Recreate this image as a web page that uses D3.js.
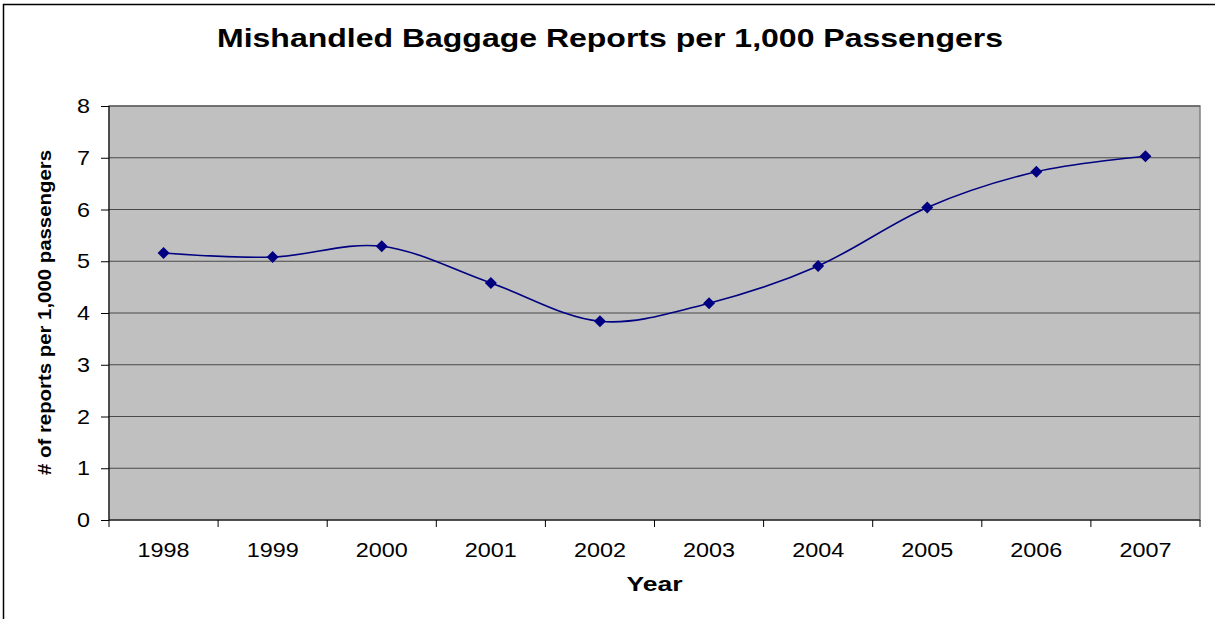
<!DOCTYPE html>
<html>
<head>
<meta charset="utf-8">
<script src="https://cdn.jsdelivr.net/npm/d3@7"></script>
<style>
  html, body { margin: 0; padding: 0; background: #fff; }
  svg { display: block; font-family: "Liberation Sans", Arial, sans-serif; }
</style>
</head>
<body>
<svg id="chart" width="1215" height="619"></svg>
<script>
// Mishandled baggage reports per 1,000 passengers, by year
const years = ["1998", "1999", "2000", "2001", "2002", "2003", "2004", "2005", "2006", "2007"];
const reports = [5.16, 5.08, 5.29, 4.58, 3.84, 4.19, 4.91, 6.04, 6.73, 7.03];
const yTicks = [0, 1, 2, 3, 4, 5, 6, 7, 8];

const titleText = "Mishandled Baggage Reports per 1,000 Passengers";
const xTitle = "Year";
const yTitle = "# of reports per 1,000 passengers";

const svg = d3.select("#chart");
const W = 1215, H = 619;
const plot = { left: 109, right: 1200, top: 106, bottom: 520 };
const FONT = "Liberation Sans, Arial, sans-serif";

// outer frame (only left/top edges fall inside the view)
svg.append("rect")
  .attr("x", 3.5).attr("y", 4.5)
  .attr("width", W + 10).attr("height", H + 10)
  .attr("fill", "#fff").attr("stroke", "#000").attr("stroke-width", 1.5);

const x = d3.scaleBand().domain(years).range([plot.left, plot.right]);
const y = d3.scaleLinear().domain([0, 8]).range([plot.bottom, plot.top]);

// plot area
svg.append("rect")
  .attr("x", plot.left).attr("y", plot.top)
  .attr("width", plot.right - plot.left).attr("height", plot.bottom - plot.top)
  .attr("fill", "#c0c0c0").attr("stroke", "#808080").attr("stroke-width", 1.5);

// horizontal gridlines
svg.append("g").selectAll("line")
  .data(yTicks.filter(d => d > 0))
  .join("line")
  .attr("x1", plot.left).attr("x2", plot.right)
  .attr("y1", d => y(d)).attr("y2", d => y(d))
  .attr("stroke", "#4a4a4a").attr("stroke-width", 1.2);

// y axis
const yAxis = svg.append("g")
  .attr("transform", `translate(${plot.left},0)`)
  .call(d3.axisLeft(y).tickValues(yTicks).tickSize(8).tickPadding(11).tickFormat(d3.format("d")));
yAxis.attr("font-size", null).attr("font-family", null);
yAxis.select(".domain").attr("stroke", "#000").attr("d", `M0,${plot.top}V${plot.bottom}`);
yAxis.selectAll(".tick line").attr("stroke", "#000");
yAxis.selectAll(".tick text")
  .style("font-size", "21px").attr("fill", "#000")
  .style("font-family", FONT)
  .attr("textLength", 13).attr("lengthAdjust", "spacingAndGlyphs");

// x axis: ticks sit on category boundaries
const xAxisG = svg.append("g").attr("transform", `translate(0,${plot.bottom})`);
xAxisG.append("line")
  .attr("x1", plot.left).attr("x2", plot.right)
  .attr("stroke", "#000").attr("stroke-width", 1);
const boundaries = years.map(d => x(d)).concat([x(years[years.length - 1]) + x.bandwidth()]);
xAxisG.selectAll("line.tk")
  .data(boundaries)
  .join("line").attr("class", "tk")
  .attr("x1", d => d).attr("x2", d => d)
  .attr("y1", 0).attr("y2", 7)
  .attr("stroke", "#000");
xAxisG.selectAll("text")
  .data(years)
  .join("text")
  .attr("x", d => x(d) + x.bandwidth() / 2)
  .attr("y", 37)
  .attr("text-anchor", "middle")
  .style("font-size", "20px")
  .attr("textLength", 52).attr("lengthAdjust", "spacingAndGlyphs")
  .text(d => d);

// series line (smoothed)
const line = d3.line()
  .x((d, i) => x(years[i]) + x.bandwidth() / 2)
  .y(d => y(d))
  .curve(d3.curveCardinal.tension(0));
svg.append("path")
  .datum(reports)
  .attr("d", line)
  .attr("fill", "none")
  .attr("stroke", "#000080")
  .attr("stroke-width", 1.6);

// diamond markers
svg.append("g").selectAll("path")
  .data(reports)
  .join("path")
  .attr("transform", (d, i) => `translate(${x(years[i]) + x.bandwidth() / 2},${y(d)})`)
  .attr("d", "M0,-6L6,0L0,6L-6,0Z")
  .attr("fill", "#000080");

// titles
svg.append("text")
  .attr("x", 610).attr("y", 47)
  .attr("text-anchor", "middle")
  .style("font-size", "25px").attr("font-weight", "bold")
  .attr("textLength", 786).attr("lengthAdjust", "spacingAndGlyphs")
  .text(titleText);

svg.append("text")
  .attr("x", (plot.left + plot.right) / 2).attr("y", 591)
  .attr("text-anchor", "middle")
  .style("font-size", "20px").attr("font-weight", "bold")
  .attr("textLength", 56).attr("lengthAdjust", "spacingAndGlyphs")
  .text(xTitle);

svg.append("text")
  .attr("transform", `translate(51,${(150 + 475) / 2}) rotate(-90)`)
  .attr("text-anchor", "middle")
  .style("font-size", "19px").attr("font-weight", "bold")
  .attr("textLength", 325).attr("lengthAdjust", "spacingAndGlyphs")
  .text(yTitle);
</script>
</body>
</html>
